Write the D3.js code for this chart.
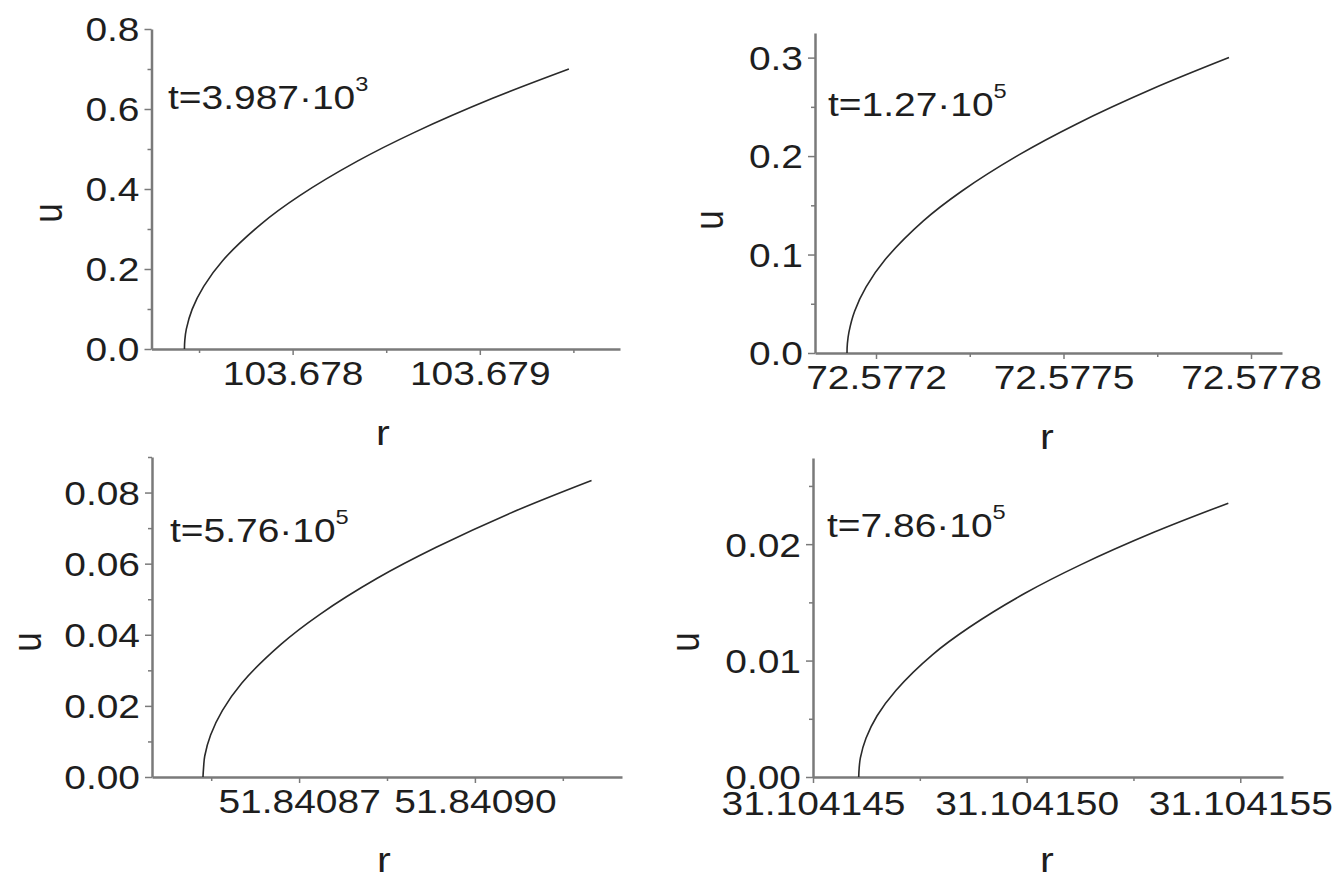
<!DOCTYPE html>
<html>
<head>
<meta charset="utf-8">
<script src="https://cdn.jsdelivr.net/npm/d3@7"></script>
<style>
  body { margin: 0; background: #fff; }
  svg { display: block; }
  text { font-family: "Liberation Sans", Arial, sans-serif; fill: #1e1e1e; }
</style>
</head>
<body>
<div id="chart"></div>
<script>
//Panel 1 : t=3.987e3
var p1_r = [103.677422, 103.677424, 103.677432, 103.677463, 103.677525, 103.677627, 103.677833, 103.678038, 103.678346, 103.678654, 103.679065, 103.679476];
var p1_u = [0, 0.0221, 0.0495, 0.099, 0.1565, 0.2214, 0.313, 0.3834, 0.4696, 0.5422, 0.6261, 0.70];
var p1_xTicks = [103.678, 103.679];
var p1_xMinor = [103.6775, 103.6785, 103.6795];
var p1_yTicks = [0, 0.2, 0.4, 0.6, 0.8];
var p1_yMinor = [0.1, 0.3, 0.5, 0.7];

//Panel 2 : t=1.27e5
var p2_r = [72.5771536, 72.5771542, 72.5771567, 72.5771658, 72.5771842, 72.5772147, 72.5772758, 72.577337, 72.5774286, 72.5775203, 72.5776426, 72.5777648];
var p2_u = [0, 0.0095, 0.0212, 0.0424, 0.0671, 0.0949, 0.1342, 0.1643, 0.2012, 0.2324, 0.2683, 0.30];
var p2_xTicks = [72.5772, 72.5775, 72.5778];
var p2_xMinor = [72.57735, 72.57765];
var p2_yTicks = [0, 0.1, 0.2, 0.3];
var p2_yMinor = [0.05, 0.15, 0.25];

//Panel 3 : t=5.76e5
var p3_r = [51.8408536, 51.8408537, 51.8408539, 51.8408549, 51.8408569, 51.8408602, 51.8408669, 51.8408735, 51.8408834, 51.8408934, 51.8409066, 51.8409199];
var p3_u = [0, 0.00264, 0.0059, 0.0118, 0.01865, 0.02637, 0.0373, 0.04568, 0.05595, 0.0646, 0.0746, 0.0834];
var p3_xTicks = [51.84087, 51.8409];
var p3_xMinor = [51.840855, 51.840885, 51.840915];
var p3_yTicks = [0, 0.02, 0.04, 0.06, 0.08];
var p3_yMinor = [0.01, 0.03, 0.05, 0.07, 0.09];

//Panel 4 : t=7.86e5
var p4_r = [31.10414607, 31.10414608, 31.10414611, 31.10414624, 31.1041465, 31.10414694, 31.1041478, 31.10414867, 31.10414996, 31.10415126, 31.10415299, 31.10415472];
var p4_u = [0, 0.000744, 0.001663, 0.003326, 0.005259, 0.007438, 0.010519, 0.012883, 0.015778, 0.018219, 0.021037, 0.02352];
var p4_xTicks = [31.104145, 31.10415, 31.104155];
var p4_xMinor = [31.1041475, 31.1041525];
var p4_yTicks = [0, 0.01, 0.02];
var p4_yMinor = [0.005, 0.015, 0.025];

var labels = ["t=3.987\u00b710", "t=1.27\u00b710", "t=5.76\u00b710", "t=7.86\u00b710"];
var exponents = ["3", "5", "5", "5"];

var W = 1339, H = 881;
var SX = 1.18;   // the picture is stretched sideways a bit
var FS = 33;
var axisColor = "#7a7a7a";

var svg = d3.select("#chart").append("svg")
    .attr("width", W)
    .attr("height", H);

var panels = [
  {r: p1_r, u: p1_u, xt: p1_xTicks, xm: p1_xMinor, yt: p1_yTicks, ym: p1_yMinor,
   xdom: [103.677246, 103.679749], ydom: [0, 0.8], xr: [151.5, 620], yr: [349, 29],
   xf: ".3f", yf: ".1f", lab: [168, 109], ux: [51, 213], rx: [383, 436], xpad: 13},
  {r: p2_r, u: p2_u, xt: p2_xTicks, xm: p2_xMinor, yt: p2_yTicks, ym: p2_yMinor,
   xdom: [72.5771024, 72.5778496], ydom: [0, 0.325], xr: [815, 1282], yr: [353, 33],
   xf: ".4f", yf: ".1f", lab: [828, 116], ux: [712, 220], rx: [1047, 440], xpad: 13},
  {r: p3_r, u: p3_u, xt: p3_xTicks, xm: p3_xMinor, yt: p3_yTicks, ym: p3_yMinor,
   xdom: [51.8408449, 51.8409251], ydom: [0, 0.09], xr: [152, 622], yr: [777, 457],
   xf: ".5f", yf: ".2f", lab: [170, 542], ux: [30, 642], rx: [384, 863], xpad: 13},
  {r: p4_r, u: p4_u, xt: p4_xTicks, xm: p4_xMinor, yt: p4_yTicks, ym: p4_yMinor,
   xdom: [31.104145, 31.104156], ydom: [0, 0.0274], xr: [813, 1283], yr: [777, 458],
   xf: ".6f", yf: ".2f", lab: [827, 537], ux: [688, 642], rx: [1047, 863], xpad: 15}
];

panels.forEach(function(p, i){
    var x = d3.scaleLinear().domain(p.xdom).range(p.xr);
    var y = d3.scaleLinear().domain(p.ydom).range(p.yr);
    var g = svg.append("g");

    //minor ticks
    g.append("g")
        .attr("transform", "translate(0," + p.yr[0] + ")")
        .call(d3.axisBottom(x).tickValues(p.xm).tickSize(4).tickSizeOuter(0).tickFormat(""))
        .call(function(a){ a.select(".domain").remove(); });
    g.append("g")
        .attr("transform", "translate(" + p.xr[0] + ",0)")
        .call(d3.axisLeft(y).tickValues(p.ym).tickSize(4).tickSizeOuter(0).tickFormat(""))
        .call(function(a){ a.select(".domain").remove(); });

    //major axes
    var xa = g.append("g")
        .attr("transform", "translate(0," + p.yr[0] + ")")
        .call(d3.axisBottom(x).tickValues(p.xt).tickSize(6).tickSizeOuter(0).tickFormat(d3.format(p.xf)));
    var ya = g.append("g")
        .attr("transform", "translate(" + p.xr[0] + ",0)")
        .call(d3.axisLeft(y).tickValues(p.yt).tickSize(7).tickSizeOuter(0).tickFormat(d3.format(p.yf)));

    g.selectAll(".tick line").attr("stroke", axisColor).attr("stroke-width", 1.5);
    g.selectAll(".domain").attr("stroke", axisColor).attr("stroke-width", 2.5);

    xa.selectAll("text")
        .attr("font-size", FS)
        .attr("x", 0)
        .attr("y", p.xpad)
        .attr("dy", "0.71em")
        .attr("transform", "scale(" + SX + ",1)");

    ya.selectAll("text")
        .attr("font-size", FS)
        .attr("x", -12 / SX)
        .attr("dy", "0.36em")
        .attr("transform", "scale(" + SX + ",1)");

    //curve
    var pts = p.r.map(function(d, k){ return [d, p.u[k]]; });
    g.append("path")
        .datum(pts)
        .attr("fill", "none")
        .attr("stroke", "#2a2a2a")
        .attr("stroke-width", 1.6)
        .attr("d", d3.line()
            .x(function(d){ return x(d[0]); })
            .y(function(d){ return y(d[1]); })
            .curve(d3.curveCatmullRom.alpha(0.5)));

    //time label
    var tl = g.append("text")
        .attr("transform", "translate(" + p.lab[0] + "," + p.lab[1] + ") scale(" + SX + ",1)")
        .attr("font-size", FS);
    tl.append("tspan").text(labels[i]);
    tl.append("tspan").attr("font-size", 20).attr("dy", -18).text(exponents[i]);

    //axis titles
    g.append("text")
        .attr("transform", "translate(" + p.ux[0] + "," + p.ux[1] + ") scale(" + SX + ",1) rotate(-90)")
        .attr("text-anchor", "middle")
        .attr("dy", "0.26em")
        .attr("font-size", 35)
        .text("u");
    g.append("text")
        .attr("transform", "translate(" + p.rx[0] + "," + p.rx[1] + ") scale(" + SX + ",1)")
        .attr("text-anchor", "middle")
        .attr("dy", "0.26em")
        .attr("font-size", 35)
        .text("r");
});
</script>
</body>
</html>
